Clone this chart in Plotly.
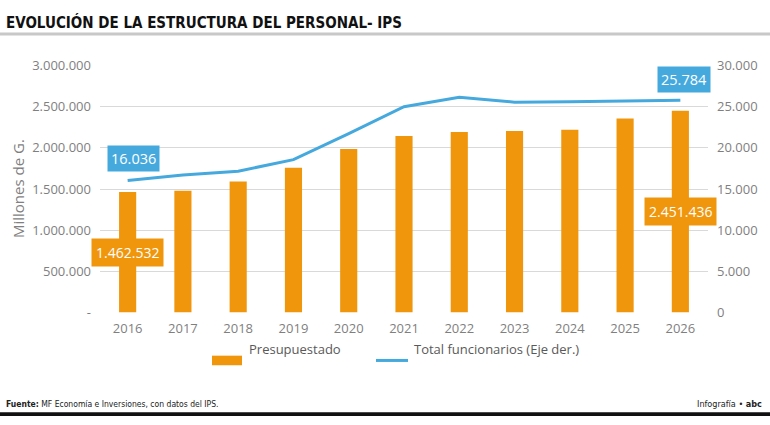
import plotly.graph_objects as go

years = ["2016", "2017", "2018", "2019", "2020", "2021", "2022", "2023", "2024", "2025", "2026"]
presupuestado = [1462532, 1480000, 1593000, 1759000, 1985000, 2143000, 2194000, 2206000, 2221000, 2357000, 2451436]
funcionarios = [16036, 16710, 17170, 18570, 21740, 25000, 26130, 25550, 25600, 25650, 25784]
left_ticks = [0, 500000, 1000000, 1500000, 2000000, 2500000, 3000000]
right_ticks = [0, 5000, 10000, 15000, 20000, 25000, 30000]

ORANGE = "#F0960C"
BLUE = "#45A9DE"
GRID = "#D9D9D9"
TICKC = "#7F7F7F"
FONT = "Open Sans, Noto Sans, sans-serif"
COND = "Liberation Sans Narrow, DejaVu Sans Condensed, Roboto Condensed, Arial Narrow, sans-serif"


def fmt(v):
    return f"{v:,}".replace(",", ".")


left_text = ["-" if v == 0 else fmt(v) for v in left_ticks]
right_text = [fmt(v) for v in right_ticks]

W, H = 770, 425


def py(y):
    return 1 - y / H


fig = go.Figure()
fig.add_trace(go.Bar(x=years, y=presupuestado, name="Presupuestado",
                     marker=dict(color=ORANGE, line=dict(width=0)), width=0.31,
                     yaxis="y", showlegend=False))
fig.add_trace(go.Scatter(x=years, y=funcionarios, name="Total funcionarios (Eje der.)",
                         mode="lines", line=dict(color=BLUE, width=3),
                         yaxis="y2", showlegend=False))

x0, x1 = 100, 708
ytop, ybot = 59, 317

fig.update_layout(
    width=W, height=H,
    margin=dict(l=0, r=0, t=0, b=0),
    paper_bgcolor="white", plot_bgcolor="white",
    font=dict(family=FONT, size=13, color=TICKC),
    xaxis=dict(domain=[x0 / W, x1 / W], type="category", range=[-0.5, len(years) - 0.5],
               showgrid=False, showline=False, zeroline=False, ticks="",
               ticklabelstandoff=6, tickfont=dict(size=13, color=TICKC)),
    yaxis=dict(domain=[py(ybot), py(ytop)], range=[0, 3000000],
               tickvals=left_ticks, ticktext=left_text, gridcolor=GRID, gridwidth=1,
               zeroline=False, showline=False, ticks="", ticklabelstandoff=8,
               tickfont=dict(size=13, color=TICKC)),
    yaxis2=dict(overlaying="y", side="right", range=[0, 30000],
                tickvals=right_ticks, ticktext=right_text, showgrid=False,
                zeroline=False, showline=False, ticks="", ticklabelstandoff=8,
                tickfont=dict(size=13, color=TICKC)),
    showlegend=False,
)

# y-axis title
fig.add_annotation(text="Millones de G.", xref="paper", yref="paper",
                   x=18 / W, y=py(188), xanchor="center", yanchor="middle",
                   showarrow=False, textangle=-90,
                   font=dict(family=FONT, size=15, color=TICKC))

first, last = 0, len(years) - 1
# data labels
fig.add_annotation(x=first, y=funcionarios[first], xref="x", yref="y2",
                   text=fmt(funcionarios[first]), showarrow=False, yshift=22, xshift=6,
                   bgcolor=BLUE, font=dict(family=FONT, size=14.5, color="white"),
                   borderpad=3)
fig.add_annotation(x=last, y=funcionarios[last], xref="x", yref="y2",
                   text=fmt(funcionarios[last]), showarrow=False, yshift=21, xshift=4,
                   bgcolor=BLUE, font=dict(family=FONT, size=14.5, color="white"),
                   borderpad=3)
fig.add_annotation(x=first, y=presupuestado[first] / 2, xref="x", yref="y",
                   text=fmt(presupuestado[first]), showarrow=False,
                   bgcolor=ORANGE, font=dict(family=FONT, size=14, color="white"),
                   borderpad=4)
fig.add_annotation(x=last, y=presupuestado[last] / 2, xref="x", yref="y",
                   text=fmt(presupuestado[last]), showarrow=False,
                   bgcolor=ORANGE, font=dict(family=FONT, size=14, color="white"),
                   borderpad=4)

# manual legend
ly = py(367)
fig.add_shape(type="rect", xref="paper", yref="paper",
              x0=212 / W, x1=242 / W, y0=ly - 5 / H, y1=ly + 5 / H,
              fillcolor=ORANGE, line=dict(width=0))
fig.add_annotation(text="Presupuestado", xref="paper", yref="paper",
                   x=247 / W, y=ly, xanchor="left", showarrow=False,
                   font=dict(family=FONT, size=13, color="#595959"))
fig.add_shape(type="line", xref="paper", yref="paper",
              x0=376 / W, x1=408 / W, y0=ly, y1=ly,
              line=dict(color=BLUE, width=3))
fig.add_annotation(text="Total funcionarios (Eje der.)", xref="paper", yref="paper",
                   x=412 / W, y=ly, xanchor="left", showarrow=False,
                   font=dict(family=FONT, size=13, color="#595959"))

# title
fig.add_annotation(text="<b>EVOLUCIÓN DE LA ESTRUCTURA DEL PERSONAL- IPS</b>",
                   xref="paper", yref="paper", x=4 / W, y=py(14),
                   xanchor="left", yanchor="middle", showarrow=False,
                   font=dict(family=COND, size=15, color="#111111"))
fig.add_shape(type="line", xref="paper", yref="paper", x0=0, x1=1,
              y0=py(26), y1=py(26), line=dict(color="#C8C8C8", width=3))

# footer
fig.add_annotation(text="<b>Fuente:</b> MF Economía e Inversiones, con datos del IPS.",
                   xref="paper", yref="paper", x=4 / W, y=py(412),
                   xanchor="left", yanchor="middle", showarrow=False,
                   font=dict(family=COND, size=8.5, color="#222222"))
fig.add_annotation(text="Infografía • <b>abc</b>",
                   xref="paper", yref="paper", x=764 / W, y=py(412),
                   xanchor="right", yanchor="middle", showarrow=False,
                   font=dict(family=COND, size=9, color="#222222"))
fig.add_shape(type="rect", xref="paper", yref="paper", x0=0, x1=1,
              y0=0, y1=4 / H, fillcolor="#111111", line=dict(width=0))

fig.write_html("out.html")
